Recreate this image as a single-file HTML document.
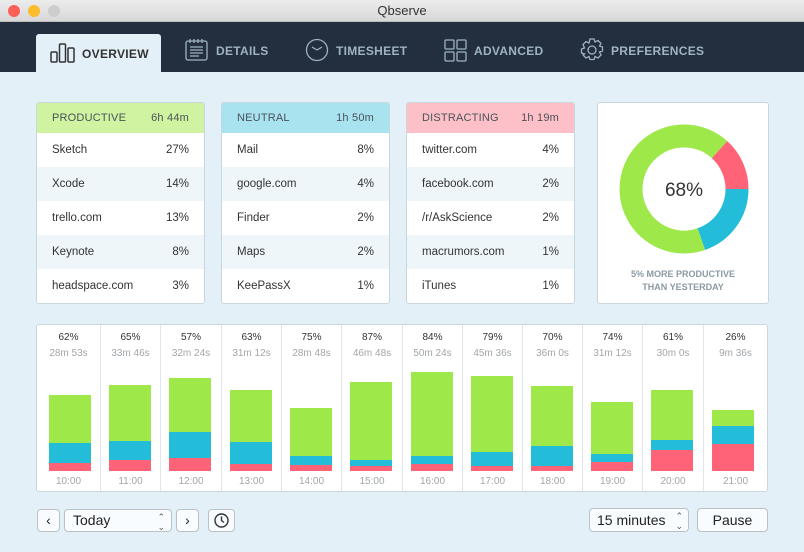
<!DOCTYPE html>
<html><head><meta charset="utf-8"><style>
*{margin:0;padding:0;box-sizing:border-box}
body{width:804px;height:552px;overflow:hidden;background:#e3f0f7;font-family:"Liberation Sans",sans-serif;position:relative}
.a{position:absolute}
.tb{left:0;top:0;width:804px;height:22px;background:linear-gradient(#ececec,#d8d8d8);border-bottom:1px solid #bdbdbd;text-align:center;font-size:13px;line-height:22px;color:#333}
.dot{top:5px;width:12px;height:12px;border-radius:50%}
.nav{left:0;top:22px;width:804px;height:50px;background:#232f3e}
.tab{font-size:12px;font-weight:bold;color:#9fb3c2;letter-spacing:.3px}
.card{background:#fff;border:1px solid #c9d6de;border-radius:3px;overflow:hidden}
.hd{height:30px;line-height:31px;padding:0 15px;font-size:11px;color:#4a5358;display:flex;justify-content:space-between;letter-spacing:.2px}
.row{height:34px;line-height:34px;padding:0 15px;font-size:11.5px;color:#333;display:flex;justify-content:space-between}
.col{top:325px;height:166px;border-left:1px solid #dde5ea}
.pc{font-size:10px;color:#333;text-align:center;width:100%;position:absolute;top:7px}
.tm{font-size:10px;color:#a0a6aa;text-align:center;width:100%;position:absolute;top:23px}
.hr{font-size:10px;color:#a0a6aa;text-align:center;width:100%;position:absolute;top:151px}
.btn{background:#f9fcfe;border:1px solid #b9c2c8;border-radius:4px;font-size:14px;color:#222}
</style></head><body>
<div class="a tb">Qbserve</div>
<div class="a dot" style="left:8px;background:#fc5f57"></div>
<div class="a dot" style="left:28px;background:#fdbc2e"></div>
<div class="a dot" style="left:48px;background:#cdcdcd"></div>
<div class="a nav"></div>
<div class="a" style="left:36px;top:34px;width:125px;height:38px;background:#e4f0f7;border-radius:3px 3px 0 0"></div>
<svg class="a" style="left:50px;top:42px" width="26" height="22"><g fill="none" stroke="#333" stroke-width="1.5"><rect x="1" y="10" width="6" height="10" rx="1"/><rect x="9.5" y="2" width="6" height="18" rx="1"/><rect x="18" y="6" width="6" height="14" rx="1"/></g></svg>
<div class="a tab" style="left:82px;top:47px;color:#333">OVERVIEW</div>
<svg class="a" style="left:185px;top:38px" width="24" height="24"><g fill="none" stroke="#9fb3c2" stroke-width="1.3"><rect x="1" y="3" width="21" height="19" rx="2"/><path d="M5 1v4M9 1v4M13 1v4M17 1v4M5 9h13M5 12h13M5 15h13M5 18h9"/></g></svg>
<div class="a tab" style="left:216px;top:44px">DETAILS</div>
<svg class="a" style="left:305px;top:38px" width="24" height="24"><g fill="none" stroke="#9fb3c2" stroke-width="1.3"><circle cx="12" cy="12" r="10.5"/><path d="M12 12L7 9M12 12l5-3"/></g></svg>
<div class="a tab" style="left:336px;top:44px">TIMESHEET</div>
<svg class="a" style="left:444px;top:39px" width="24" height="24"><g fill="none" stroke="#9fb3c2" stroke-width="1.3"><rect x="1" y="1" width="9" height="9" rx="1"/><rect x="13" y="1" width="9" height="9" rx="1"/><rect x="1" y="13" width="9" height="9" rx="1"/><rect x="13" y="13" width="9" height="9" rx="1"/></g></svg>
<div class="a tab" style="left:474px;top:44px">ADVANCED</div>
<svg class="a" style="left:580px;top:38px" width="24" height="24"><g fill="none" stroke="#9fb3c2" stroke-width="1.3"><circle cx="12" cy="12" r="4"/><path d="M10 1h4l1 3 3-1.5 3 3L19.5 8l3 1v4l-3 1 1.5 3-3 3-3-1.5-1 3h-4l-1-3-3 1.5-3-3L4.5 16l-3-1v-4l3-1L3 6.5l3-3L9 5z"/></g></svg>
<div class="a tab" style="left:611px;top:44px">PREFERENCES</div>

<div class="a card" style="left:36px;top:102px;width:169px;height:202px">
<div class="hd" style="background:#cff3a1"><span>PRODUCTIVE</span><span>6h 44m</span></div>
<div><div class="row" style="background:#fff"><span>Sketch</span><span>27%</span></div><div class="row" style="background:#eef6fa"><span>Xcode</span><span>14%</span></div><div class="row" style="background:#fff"><span>trello.com</span><span>13%</span></div><div class="row" style="background:#eef6fa"><span>Keynote</span><span>8%</span></div><div class="row" style="background:#fff"><span>headspace.com</span><span>3%</span></div></div></div>
<div class="a card" style="left:221px;top:102px;width:169px;height:202px">
<div class="hd" style="background:#a9e3f0"><span>NEUTRAL</span><span>1h 50m</span></div>
<div><div class="row" style="background:#fff"><span>Mail</span><span>8%</span></div><div class="row" style="background:#eef6fa"><span>google.com</span><span>4%</span></div><div class="row" style="background:#fff"><span>Finder</span><span>2%</span></div><div class="row" style="background:#eef6fa"><span>Maps</span><span>2%</span></div><div class="row" style="background:#fff"><span>KeePassX</span><span>1%</span></div></div></div>
<div class="a card" style="left:406px;top:102px;width:169px;height:202px">
<div class="hd" style="background:#fdc0c8"><span>DISTRACTING</span><span>1h 19m</span></div>
<div><div class="row" style="background:#fff"><span>twitter.com</span><span>4%</span></div><div class="row" style="background:#eef6fa"><span>facebook.com</span><span>2%</span></div><div class="row" style="background:#fff"><span>/r/AskScience</span><span>2%</span></div><div class="row" style="background:#eef6fa"><span>macrumors.com</span><span>1%</span></div><div class="row" style="background:#fff"><span>iTunes</span><span>1%</span></div></div></div>

<div class="a card" style="left:597px;top:102px;width:172px;height:202px"></div>
<svg class="a" style="left:597px;top:102px" width="172" height="202">
<g transform="translate(87,87)" fill="none" stroke-width="23">
<path d="M35.5 -39.4 A53 53 0 0 1 53 0" stroke="#ff6378"/>
<path d="M53 0 A53 53 0 0 1 17.3 50.1" stroke="#23bcd9"/>
<path d="M17.3 50.1 A53 53 0 1 1 35.5 -39.4" stroke="#9ee84a"/>
</g>
<text x="87" y="94" text-anchor="middle" font-size="19" fill="#333" font-family="Liberation Sans">68%</text>
<text x="86" y="175" text-anchor="middle" font-size="9" font-weight="bold" fill="#8a9aa3" font-family="Liberation Sans">5% MORE PRODUCTIVE</text>
<text x="86" y="188" text-anchor="middle" font-size="9" font-weight="bold" fill="#8a9aa3" font-family="Liberation Sans">THAN YESTERDAY</text>
</svg>

<div class="a card" style="left:36px;top:324px;width:732px;height:168px"></div>
<svg class="a" style="left:0;top:0" width="804" height="552">
<g id="bars"></g>
</svg>
<div id="cols"></div>

<div class="a btn" style="left:37px;top:509px;width:23px;height:23px;text-align:center;line-height:21px">‹</div>
<div class="a btn" style="left:64px;top:509px;width:108px;height:23px;padding-left:8px;line-height:21px">Today<span style="position:absolute;right:6px;top:0;font-size:9px;line-height:10px;color:#555;padding-top:2px">⌃<br>⌄</span></div>
<div class="a btn" style="left:176px;top:509px;width:23px;height:23px;text-align:center;line-height:21px">›</div>
<div class="a btn" style="left:208px;top:509px;width:27px;height:23px"><svg width="25" height="21"><circle cx="12.5" cy="10.5" r="6.5" fill="none" stroke="#333" stroke-width="1.4"/><path d="M12.5 6.5v4l2.5 2" fill="none" stroke="#333" stroke-width="1.4"/></svg></div>
<div class="a btn" style="left:589px;top:508px;width:100px;height:24px;padding-left:7px;line-height:22px">15 minutes<span style="position:absolute;right:5px;top:0;font-size:9px;line-height:10px;color:#555;padding-top:2px">⌃<br>⌄</span></div>
<div class="a btn" style="left:697px;top:508px;width:71px;height:24px;text-align:center;line-height:22px">Pause</div>

<script>
var d=[["62%","28m 53s","10:00",395,443,463],["65%","33m 46s","11:00",385,441,460],["57%","32m 24s","12:00",378,432,458],["63%","31m 12s","13:00",390,442,464],["75%","28m 48s","14:00",408,456,465],["87%","46m 48s","15:00",382,460,466],["84%","50m 24s","16:00",372,456,464],["79%","45m 36s","17:00",376,452,466],["70%","36m 0s","18:00",386,446,466],["74%","31m 12s","19:00",402,454,462],["61%","30m 0s","20:00",390,440,450],["26%","9m 36s","21:00",410,426,444]];
var xs=[37,100,160,221,281,341,402,462,522,582,642,703,767];
var h="",s="";
for(var i=0;i<12;i++){var x0=xs[i],w=xs[i+1]-x0,bx=(i==0?49:x0+9),r=d[i];
h+='<div class="a col" style="left:'+x0+'px;width:'+w+'px;'+(i==0?'border-left:none':'')+'"><div class="pc">'+r[0]+'</div><div class="tm">'+r[1]+'</div><div class="hr">'+r[2]+'</div></div>';
s+='<rect x="'+bx+'" y="'+r[3]+'" width="42" height="'+(r[4]-r[3])+'" fill="#9ee84a"/><rect x="'+bx+'" y="'+r[4]+'" width="42" height="'+(r[5]-r[4])+'" fill="#23bcd9"/><rect x="'+bx+'" y="'+r[5]+'" width="42" height="'+(471-r[5])+'" fill="#ff6378"/>';}
document.getElementById("cols").innerHTML=h;document.getElementById("bars").innerHTML=s;
</script>
</body></html>
